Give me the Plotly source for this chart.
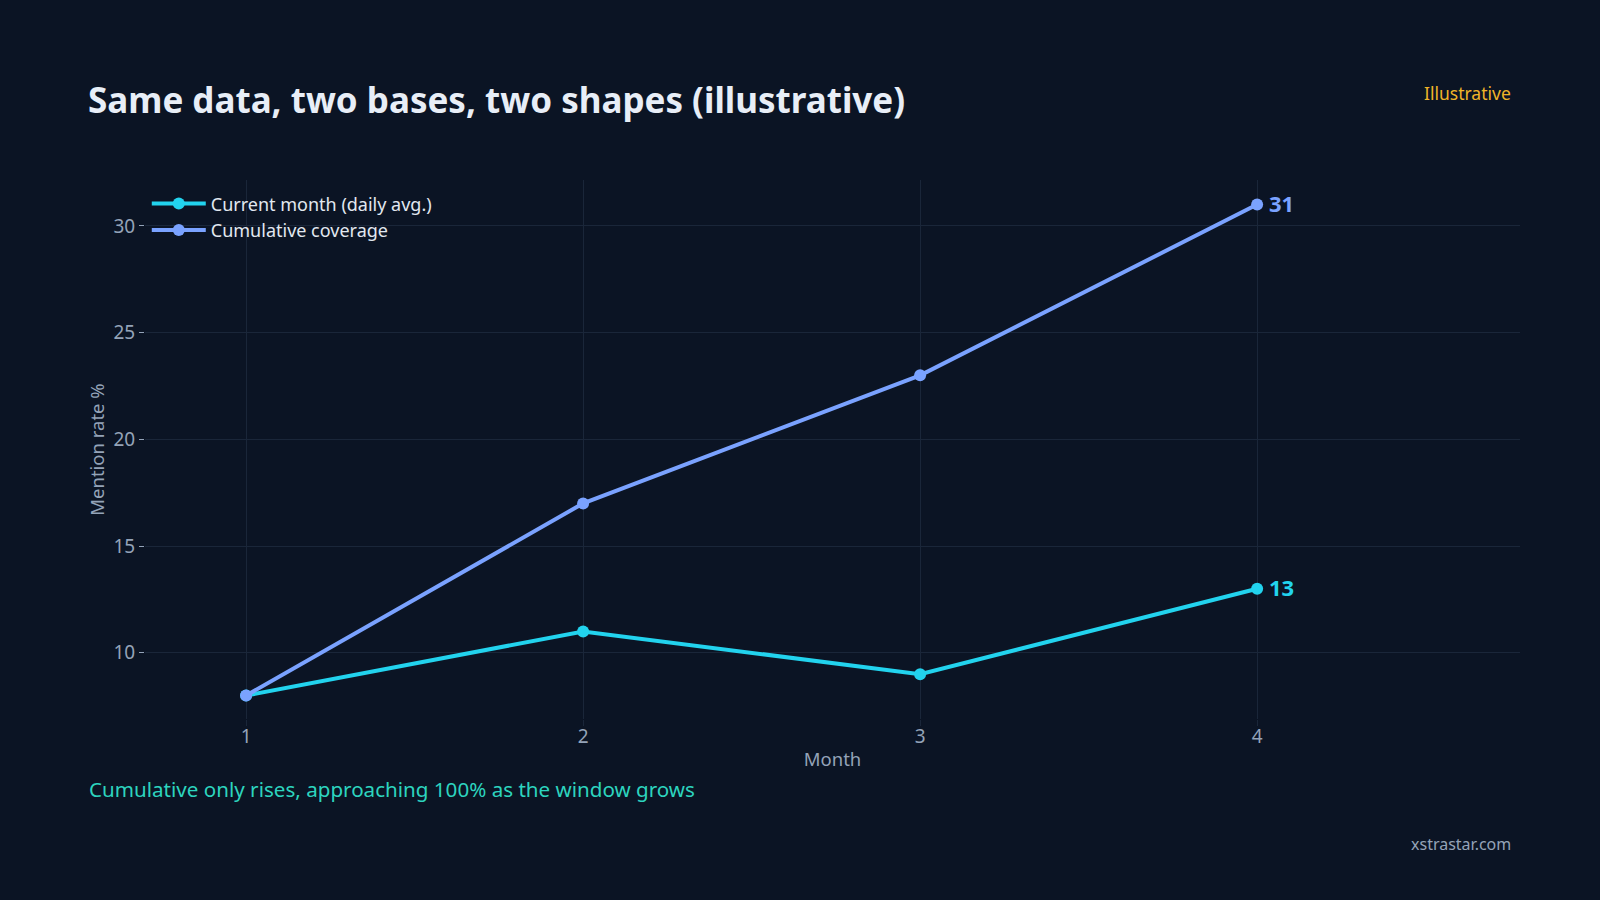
import plotly.graph_objects as go

months = [1, 2, 3, 4]
current_month = [8, 11, 9, 13]
cumulative = [8, 17, 23, 31]

bg = "#0b1424"
grid = "#1a2639"
muted = "#94a3b8"
cyan = "#22d3ee"
blue = "#7aa2ff"
font = "Segoe UI, Noto Sans, sans-serif"

fig = go.Figure()
fig.add_trace(go.Scatter(x=months, y=current_month, mode="lines+markers",
                         name="Current month (daily avg.)",
                         line=dict(color=cyan, width=4), marker=dict(size=12, color=cyan)))
fig.add_trace(go.Scatter(x=months, y=cumulative, mode="lines+markers",
                         name="Cumulative coverage",
                         line=dict(color=blue, width=4), marker=dict(size=12, color=blue)))

# end labels
for ys, c in [(current_month, cyan), (cumulative, blue)]:
    fig.add_annotation(x=months[-1], y=ys[-1], text="<b>%d</b>" % ys[-1], showarrow=False,
                       xanchor="left", xshift=10, yshift=2, font=dict(size=22, color=c, family=font))

fig.add_annotation(xref="paper", yref="paper", x=-0.042, y=-0.1295, xanchor="left", yanchor="middle",
                   text="Cumulative only rises, approaching 100% as the window grows",
                   showarrow=False, font=dict(size=20.6, color="#2dd4bf", family=font))
fig.add_annotation(xref="paper", yref="paper", x=0.995, y=1.161, xanchor="right", yanchor="middle",
                   text="Illustrative", showarrow=False, font=dict(size=17.5, color="#f0b429", family=font))
fig.add_annotation(xref="paper", yref="paper", x=0.995, y=-0.232, xanchor="right", yanchor="middle",
                   text="xstrastar.com", showarrow=False, font=dict(size=16, color=muted, family=font))

fig.update_layout(
    width=1600, height=900,
    paper_bgcolor=bg, plot_bgcolor=bg,
    margin=dict(l=145, r=80, t=180, b=181),
    font=dict(family=font, color=muted, size=18),
    title=dict(text="<b>Same data, two bases, two shapes (illustrative)</b>",
               x=0.055, xanchor="left", y=0.888, yanchor="middle",
               font=dict(size=35, color="#e8eef7", family=font)),
    legend=dict(x=0.0013, y=0.99, xanchor="left", yanchor="top", bgcolor="rgba(0,0,0,0)",
                font=dict(size=18, color="#e2e8f0"), itemwidth=54),
    showlegend=True,
)
fig.update_xaxes(range=[0.7, 4.78], tickvals=months,
                 title=dict(text="Month", standoff=5, font=dict(size=18.5)),
                 tickfont=dict(size=19), ticklabelstandoff=-6,
                 gridcolor=grid, zeroline=False, showline=False,
                 ticks="outside", ticklen=6, tickcolor=grid)
fig.update_yaxes(range=[6.9, 32.15], dtick=5,
                 title=dict(text="Mention rate %", standoff=3, font=dict(size=18.5)),
                 tickfont=dict(size=19),
                 gridcolor=grid, zeroline=False, showline=False,
                 ticks="outside", ticklen=5, tickcolor=muted)

fig.write_html("out.html", config={"displayModeBar": False},
               post_script="document.body.style.margin='0';")
